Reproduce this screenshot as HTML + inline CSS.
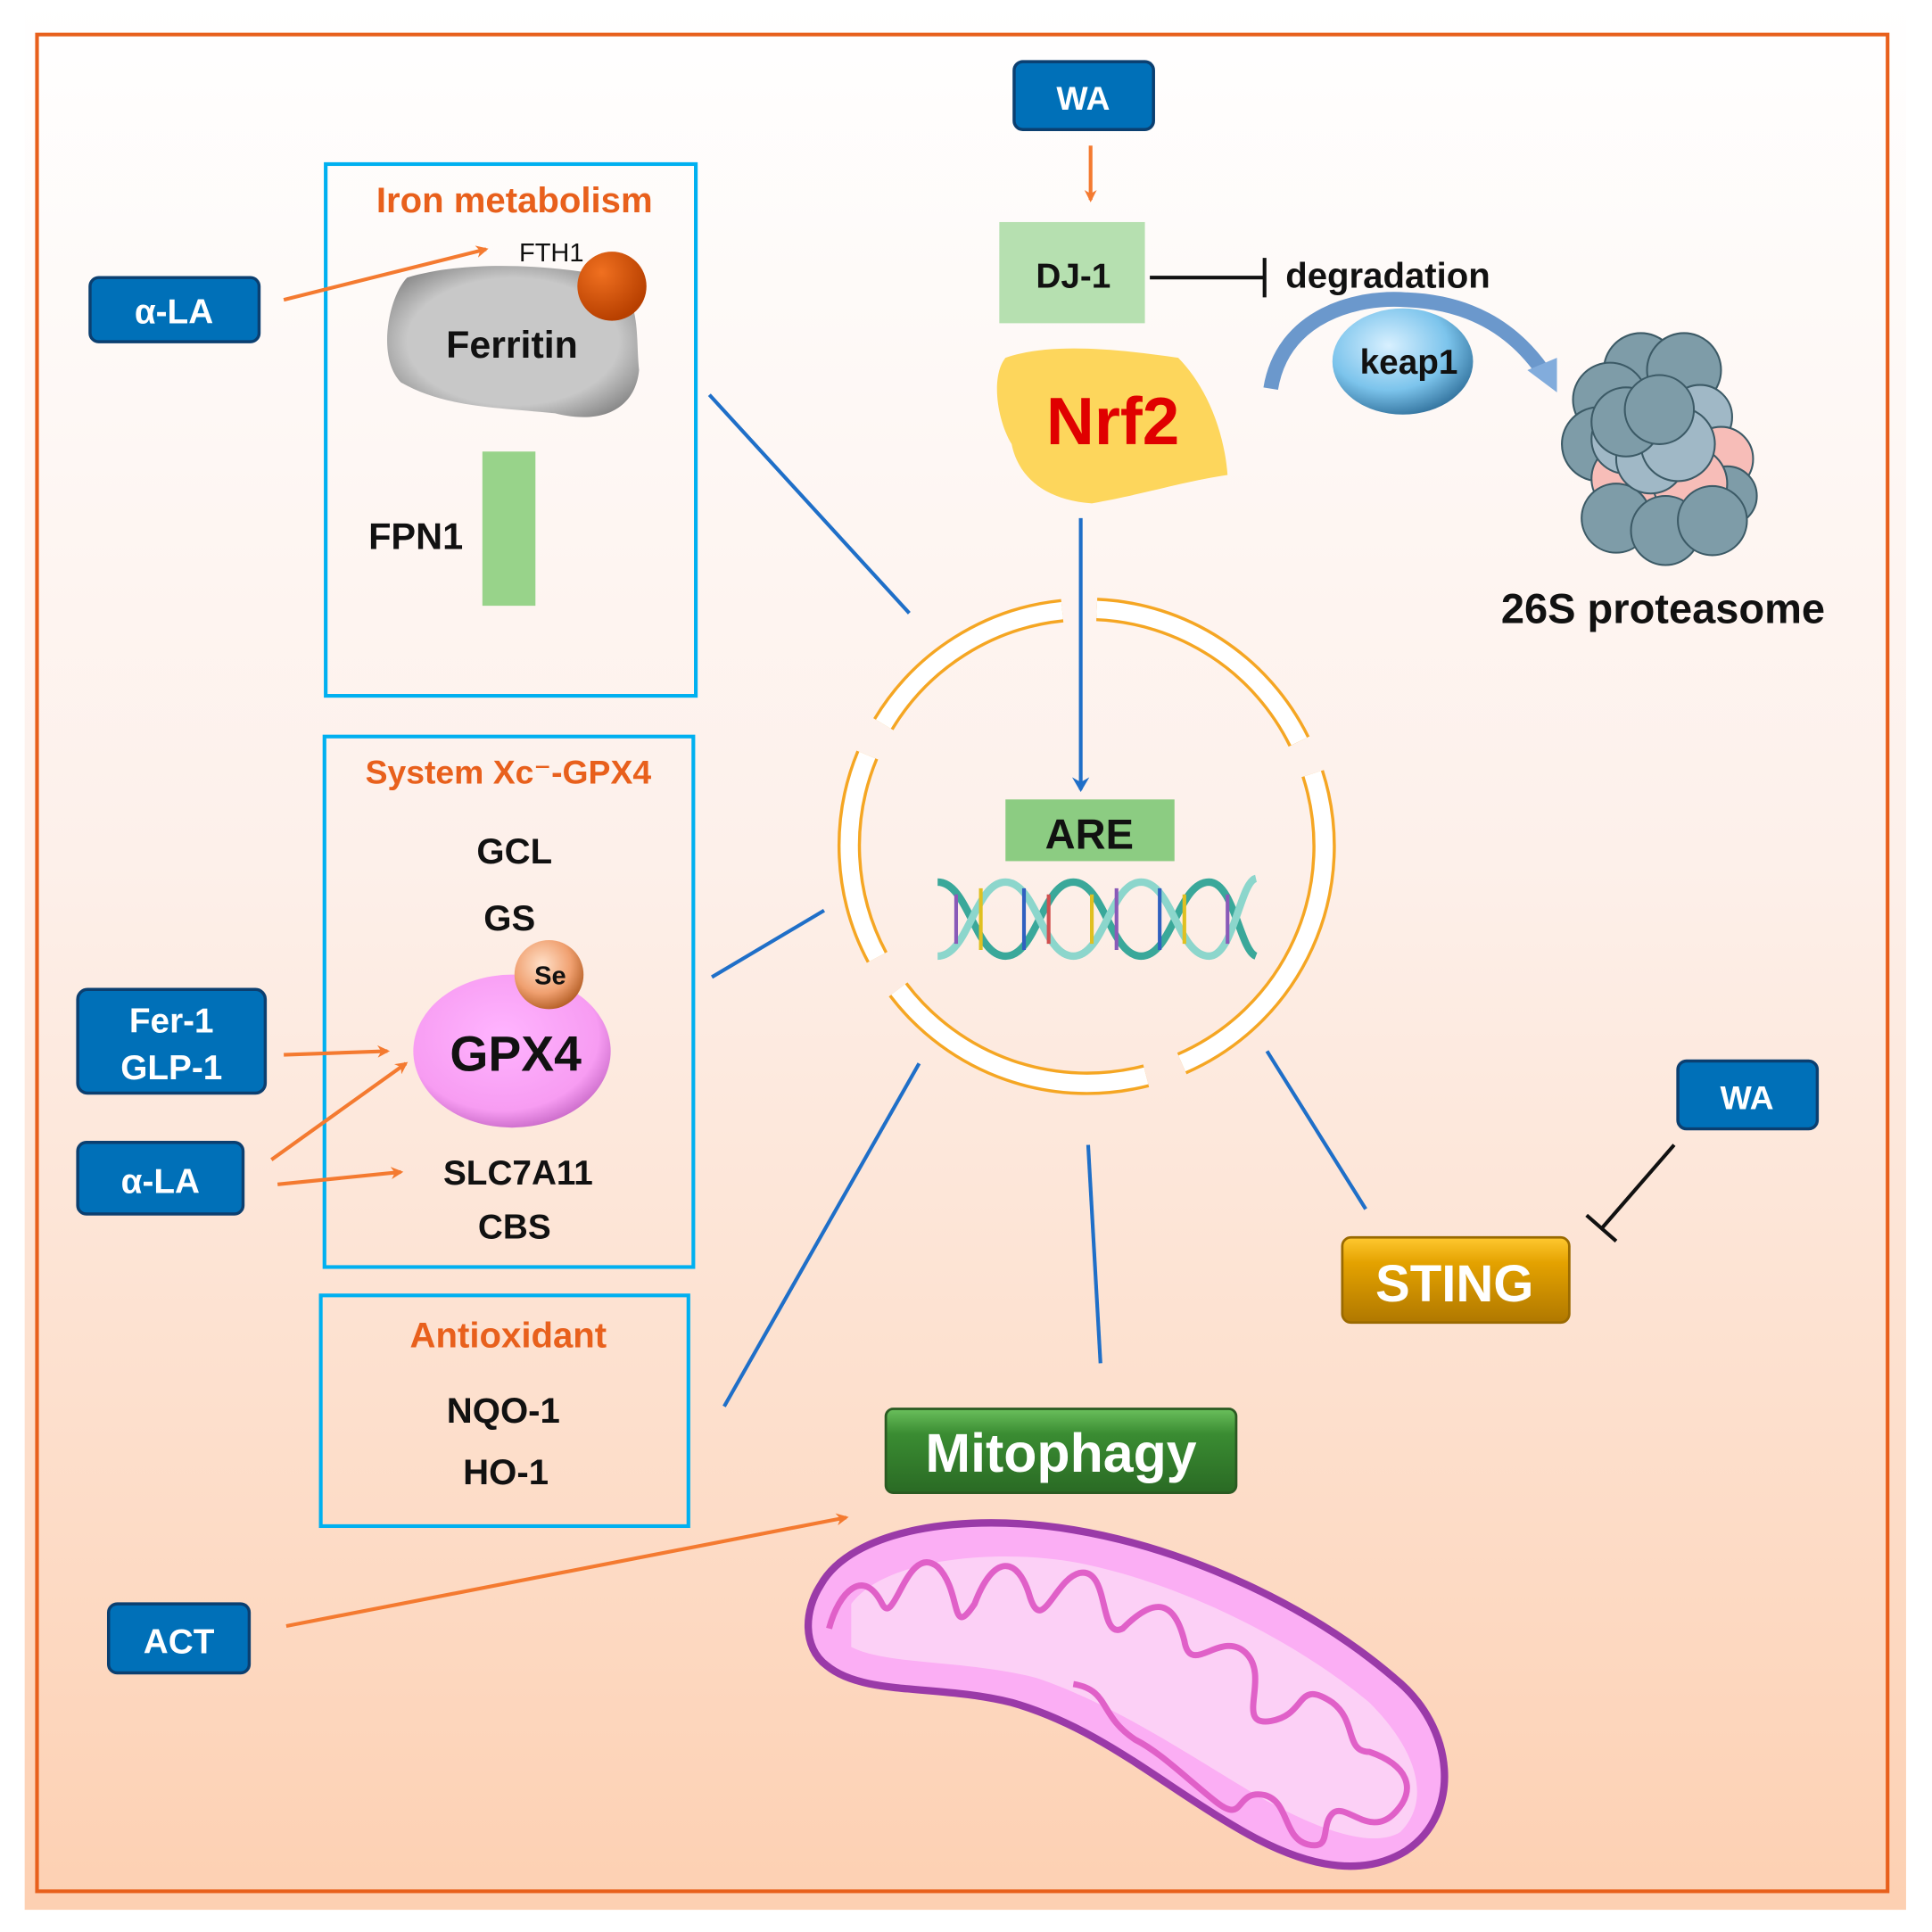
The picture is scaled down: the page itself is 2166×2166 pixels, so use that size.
<!DOCTYPE html>
<html><head><meta charset="utf-8"><style>
html,body{margin:0;padding:0;background:#fff;}
svg{display:block;}
text{font-family:"Liberation Sans","DejaVu Sans",sans-serif;}
</style></head><body>
<svg width="2166" height="2166" viewBox="0 0 1566 1566" xmlns="http://www.w3.org/2000/svg">
<defs>
<linearGradient id="bg" x1="0" y1="0" x2="0" y2="1">
<stop offset="0" stop-color="#ffffff"/><stop offset="0.45" stop-color="#fdf0ea"/><stop offset="1" stop-color="#fdd0b2"/></linearGradient>
<radialGradient id="keap" cx="0.4" cy="0.35" r="0.7"><stop offset="0" stop-color="#d8f0ff"/><stop offset="0.6" stop-color="#7cc4ec"/><stop offset="1" stop-color="#2f6f9a"/></radialGradient>
<radialGradient id="se" cx="0.4" cy="0.35" r="0.7"><stop offset="0" stop-color="#ffe0c8"/><stop offset="0.6" stop-color="#f0a070"/><stop offset="1" stop-color="#b05a20"/></radialGradient>
<radialGradient id="gpx" cx="0.45" cy="0.4" r="0.65"><stop offset="0" stop-color="#ffb4ff"/><stop offset="0.75" stop-color="#f79cf2"/><stop offset="1" stop-color="#c060c0"/></radialGradient>
<radialGradient id="fe" cx="0.35" cy="0.3" r="0.7"><stop offset="0" stop-color="#f07020"/><stop offset="1" stop-color="#b84000"/></radialGradient>
<linearGradient id="sting" x1="0" y1="0" x2="0" y2="1"><stop offset="0" stop-color="#ffc830"/><stop offset="0.3" stop-color="#e4a200"/><stop offset="1" stop-color="#b07800"/></linearGradient>
<linearGradient id="mito" x1="0" y1="0" x2="0" y2="1"><stop offset="0" stop-color="#6abf5c"/><stop offset="0.3" stop-color="#3a8c32"/><stop offset="1" stop-color="#2a6a24"/></linearGradient>
<radialGradient id="fer" cx="0.5" cy="0.5" r="0.6"><stop offset="0.7" stop-color="#c8c8c8"/><stop offset="1" stop-color="#8a8a8a"/></radialGradient>
<marker id="ao" markerWidth="10" markerHeight="10" refX="8" refY="5" orient="auto" markerUnits="userSpaceOnUse"><path d="M0,0 L10,5 L0,10 L3,5z" fill="#f47a30"/></marker>
<marker id="ab" markerWidth="14" markerHeight="14" refX="10" refY="7" orient="auto" markerUnits="userSpaceOnUse"><path d="M0,0 L12,7 L0,14 L4,7z" fill="#1f6fc8"/></marker>
</defs>
<rect x="20" y="0" width="1525" height="1548" fill="url(#bg)"/>
<rect x="30" y="28" width="1500" height="1505" fill="none" stroke="#e8601c" stroke-width="3"/>

<!-- WA top -->
<rect x="822" y="50" width="113" height="55" rx="7" fill="#0070b8" stroke="#0b3f70" stroke-width="2.5"/>
<text x="878" y="89" font-size="27" font-weight="bold" fill="#fff" text-anchor="middle">WA</text>
<line x1="884" y1="118" x2="884" y2="162" stroke="#f47a30" stroke-width="3" marker-end="url(#ao)"/>
<rect x="810" y="180" width="118" height="82" fill="#b6e0b0"/>
<text x="870" y="233" font-size="28" font-weight="bold" fill="#111" text-anchor="middle">DJ-1</text>
<line x1="932" y1="225" x2="1025" y2="225" stroke="#111" stroke-width="3"/>
<line x1="1025" y1="209" x2="1025" y2="241" stroke="#111" stroke-width="3"/>
<text x="1042" y="233" font-size="29" font-weight="bold" fill="#111">degradation</text>
<path d="M1030,315 C1040,255 1100,240 1140,243 C1190,245 1225,265 1250,300" fill="none" stroke="#6b98cc" stroke-width="12"/>
<path d="M1238,300 L1262,318 L1262,290z" fill="#82acdc"/>
<ellipse cx="1137" cy="293" rx="57" ry="43" fill="url(#keap)"/>
<text x="1142" y="303" font-size="28" font-weight="bold" fill="#111" text-anchor="middle">keap1</text>
<path d="M815,290 C850,278 900,282 955,290 C975,310 992,345 995,385 C960,390 930,400 885,408 C845,405 825,385 820,360 C808,340 803,305 815,290z" fill="#fdd65c"/>
<text x="902" y="360" font-size="54" font-weight="bold" fill="#e00000" text-anchor="middle">Nrf2</text>
<!-- proteasome -->
<g stroke="#3c5a66" stroke-width="1.5">
<circle cx="1330" cy="300" r="30" fill="#7e9ca8"/><circle cx="1305" cy="324" r="30" fill="#7e9ca8"/><circle cx="1365" cy="300" r="30" fill="#7e9ca8"/>
<circle cx="1378" cy="338" r="26" fill="#a0b8c6"/><circle cx="1296" cy="360" r="30" fill="#7e9ca8"/>
<circle cx="1395" cy="372" r="26" fill="#f7bdb8"/><circle cx="1318" cy="388" r="28" fill="#f7bdb8"/>
<circle cx="1318" cy="356" r="28" fill="#a0b8c6"/><circle cx="1345" cy="410" r="28" fill="#f7bdb8"/>
<circle cx="1400" cy="402" r="24" fill="#7e9ca8"/><circle cx="1370" cy="392" r="30" fill="#f7bdb8"/>
<circle cx="1310" cy="420" r="28" fill="#7e9ca8"/><circle cx="1350" cy="430" r="28" fill="#7e9ca8"/><circle cx="1388" cy="422" r="28" fill="#7e9ca8"/>
<circle cx="1338" cy="372" r="28" fill="#a0b8c6"/><circle cx="1360" cy="360" r="30" fill="#a0b8c6"/>
<circle cx="1318" cy="342" r="28" fill="#7e9ca8"/><circle cx="1345" cy="332" r="28" fill="#7e9ca8"/>
</g>
<text x="1348" y="505" font-size="34" font-weight="bold" fill="#111" text-anchor="middle">26S proteasome</text>

<!-- ring segments (center 881,686, r 192) -->
<g fill="none">
<g stroke="#f5a623" stroke-width="19">
<path d="M889,494 A192,192 0 0 1 1053,601"/>
<path d="M1064,627 A192,192 0 0 1 958,862"/>
<path d="M929,872 A192,192 0 0 1 728,802"/>
<path d="M711,776 A192,192 0 0 1 703,612"/>
<path d="M716,587 A192,192 0 0 1 861,495"/>
</g>
<g stroke="#ffffff" stroke-width="14">
<path d="M889,494 A192,192 0 0 1 1053,601"/>
<path d="M1064,627 A192,192 0 0 1 958,862"/>
<path d="M929,872 A192,192 0 0 1 728,802"/>
<path d="M711,776 A192,192 0 0 1 703,612"/>
<path d="M716,587 A192,192 0 0 1 861,495"/>
</g>
</g>

<!-- lines -->
<line x1="876" y1="420" x2="876" y2="640" stroke="#1f6fc8" stroke-width="3" marker-end="url(#ab)"/>
<g stroke="#1f6fc8" stroke-width="3">
<line x1="575" y1="320" x2="737" y2="497"/>
<line x1="577" y1="792" x2="668" y2="738"/>
<line x1="587" y1="1140" x2="745" y2="862"/>
<line x1="882" y1="928" x2="892" y2="1105"/>
<line x1="1027" y1="852" x2="1107" y2="980"/>
</g>

<rect x="815" y="648" width="137" height="50" fill="#8ccc82"/>
<text x="883" y="688" font-size="34" font-weight="bold" fill="#111" text-anchor="middle">ARE</text>
<!-- DNA -->
<g fill="none" stroke-width="6">
<path d="M760,715 C785,715 790,775 815,775 C840,775 845,715 870,715 C895,715 900,775 925,775 C950,775 955,715 980,715 C1000,715 1005,770 1018,775" stroke="#3aa89a"/>
<path d="M760,775 C785,775 790,715 815,715 C840,715 845,775 870,775 C895,775 900,715 925,715 C950,715 955,775 980,775 C1000,775 1005,715 1018,712" stroke="#8cd6cc"/>
<g stroke-width="3">
<line x1="775" y1="725" x2="775" y2="765" stroke="#8a5ab8"/><line x1="795" y1="720" x2="795" y2="770" stroke="#e0c020"/>
<line x1="830" y1="720" x2="830" y2="770" stroke="#3060c0"/><line x1="850" y1="725" x2="850" y2="765" stroke="#d05050"/>
<line x1="885" y1="725" x2="885" y2="765" stroke="#e0c020"/><line x1="905" y1="720" x2="905" y2="770" stroke="#8a5ab8"/>
<line x1="940" y1="720" x2="940" y2="770" stroke="#3060c0"/><line x1="960" y1="725" x2="960" y2="765" stroke="#e0c020"/>
<line x1="995" y1="725" x2="995" y2="765" stroke="#8a5ab8"/>
</g></g>

<!-- Iron box -->
<rect x="264" y="133" width="300" height="431" fill="none" stroke="#00b0f0" stroke-width="3"/>
<text x="417" y="172" font-size="29" font-weight="bold" fill="#e8601c" text-anchor="middle">Iron metabolism</text>
<path d="M330,225 C380,210 450,215 500,225 C520,250 515,270 518,300 C515,330 490,345 450,335 C400,330 360,330 325,310 C305,290 315,240 330,225z" fill="url(#fer)"/>
<text x="447" y="212" font-size="21" fill="#111" text-anchor="middle">FTH1</text>
<circle cx="496" cy="232" r="28" fill="url(#fe)"/>
<text x="415" y="290" font-size="31" font-weight="bold" fill="#111" text-anchor="middle">Ferritin</text>
<rect x="391" y="366" width="43" height="125" fill="#98d38a"/>
<text x="337" y="445" font-size="30" font-weight="bold" fill="#111" text-anchor="middle">FPN1</text>
<rect x="73" y="225" width="137" height="52" rx="7" fill="#0070b8" stroke="#0b3f70" stroke-width="2.5"/>
<text x="141" y="262" font-size="28" font-weight="bold" fill="#fff" text-anchor="middle">α-LA</text>
<line x1="230" y1="243" x2="394" y2="202" stroke="#f47a30" stroke-width="3" marker-end="url(#ao)"/>

<!-- System box -->
<rect x="263" y="597" width="299" height="430" fill="none" stroke="#00b0f0" stroke-width="3"/>
<text x="412" y="635" font-size="27" font-weight="bold" fill="#e8601c" text-anchor="middle">System Xc⁻-GPX4</text>
<text x="417" y="700" font-size="29" font-weight="bold" fill="#111" text-anchor="middle">GCL</text>
<text x="413" y="754" font-size="29" font-weight="bold" fill="#111" text-anchor="middle">GS</text>
<ellipse cx="415" cy="852" rx="80" ry="62" fill="url(#gpx)"/>
<text x="418" y="868" font-size="40" font-weight="bold" fill="#111" text-anchor="middle">GPX4</text>
<circle cx="445" cy="790" r="28" fill="url(#se)"/>
<text x="446" y="798" font-size="21" font-weight="bold" fill="#111" text-anchor="middle">Se</text>
<text x="420" y="960" font-size="28" font-weight="bold" fill="#111" text-anchor="middle">SLC7A11</text>
<text x="417" y="1004" font-size="28" font-weight="bold" fill="#111" text-anchor="middle">CBS</text>
<rect x="63" y="802" width="152" height="84" rx="8" fill="#0070b8" stroke="#0b3f70" stroke-width="2.5"/>
<text x="139" y="837" font-size="28" font-weight="bold" fill="#fff" text-anchor="middle">Fer-1</text>
<text x="139" y="875" font-size="28" font-weight="bold" fill="#fff" text-anchor="middle">GLP-1</text>
<line x1="230" y1="855" x2="314" y2="852" stroke="#f47a30" stroke-width="3" marker-end="url(#ao)"/>
<rect x="63" y="926" width="134" height="58" rx="7" fill="#0070b8" stroke="#0b3f70" stroke-width="2.5"/>
<text x="130" y="967" font-size="28" font-weight="bold" fill="#fff" text-anchor="middle">α-LA</text>
<line x1="220" y1="940" x2="329" y2="862" stroke="#f47a30" stroke-width="3" marker-end="url(#ao)"/>
<line x1="225" y1="960" x2="325" y2="950" stroke="#f47a30" stroke-width="3" marker-end="url(#ao)"/>

<!-- Antioxidant -->
<rect x="260" y="1050" width="298" height="187" fill="none" stroke="#00b0f0" stroke-width="3"/>
<text x="412" y="1092" font-size="29" font-weight="bold" fill="#e8601c" text-anchor="middle">Antioxidant</text>
<text x="408" y="1153" font-size="29" font-weight="bold" fill="#111" text-anchor="middle">NQO-1</text>
<text x="410" y="1203" font-size="29" font-weight="bold" fill="#111" text-anchor="middle">HO-1</text>

<rect x="88" y="1300" width="114" height="56" rx="7" fill="#0070b8" stroke="#0b3f70" stroke-width="2.5"/>
<text x="145" y="1340" font-size="28" font-weight="bold" fill="#fff" text-anchor="middle">ACT</text>
<line x1="232" y1="1318" x2="686" y2="1230" stroke="#f47a30" stroke-width="3" marker-end="url(#ao)"/>

<rect x="718" y="1142" width="284" height="68" rx="6" fill="url(#mito)" stroke="#2a5a22" stroke-width="2"/>
<text x="860" y="1193" font-size="44" font-weight="bold" fill="#fff" text-anchor="middle">Mitophagy</text>

<!-- mitochondrion -->
<path d="M665,1285 C690,1240 780,1225 870,1240 C960,1255 1060,1300 1130,1360 C1180,1400 1185,1470 1140,1500 C1100,1525 1050,1510 1000,1480 C940,1445 890,1400 820,1380 C760,1365 700,1375 670,1350 C650,1335 652,1305 665,1285z" fill="#fbaef4" stroke="#9a3aa8" stroke-width="6"/>
<path d="M690,1300 C720,1260 820,1255 880,1268 C960,1285 1050,1330 1110,1380 C1150,1420 1160,1460 1135,1485 C1110,1500 1060,1480 1010,1450 C960,1420 900,1380 840,1360 C780,1345 720,1350 690,1335z" fill="#fcd0f6"/>
<path d="M672,1320 C680,1290 700,1270 715,1300 C725,1320 735,1250 760,1270 C780,1290 770,1330 790,1300 C805,1260 825,1260 835,1295 C845,1325 855,1280 875,1275 C900,1270 890,1330 910,1320 C930,1300 950,1290 960,1330 C965,1360 990,1320 1010,1340 C1030,1360 1000,1400 1030,1395 C1060,1390 1050,1360 1080,1380 C1100,1395 1090,1420 1110,1420 C1140,1430 1150,1450 1130,1470 C1110,1490 1090,1460 1080,1470 C1070,1480 1080,1500 1060,1495 C1040,1490 1045,1460 1025,1455 C1000,1450 1010,1480 985,1460 C960,1440 940,1420 920,1410 C890,1390 900,1370 870,1365" fill="none" stroke="#e060c8" stroke-width="5"/>

<!-- STING -->
<rect x="1088" y="1003" width="184" height="69" rx="7" fill="url(#sting)" stroke="#9a6a00" stroke-width="2"/>
<text x="1179" y="1055" font-size="42" font-weight="bold" fill="#fff" text-anchor="middle">STING</text>
<rect x="1360" y="860" width="113" height="55" rx="7" fill="#0070b8" stroke="#0b3f70" stroke-width="2.5"/>
<text x="1416" y="899" font-size="27" font-weight="bold" fill="#fff" text-anchor="middle">WA</text>
<line x1="1357" y1="928" x2="1298" y2="996" stroke="#111" stroke-width="3"/>
<line x1="1286" y1="985" x2="1310" y2="1006" stroke="#111" stroke-width="3"/>
</svg>
</body></html>
